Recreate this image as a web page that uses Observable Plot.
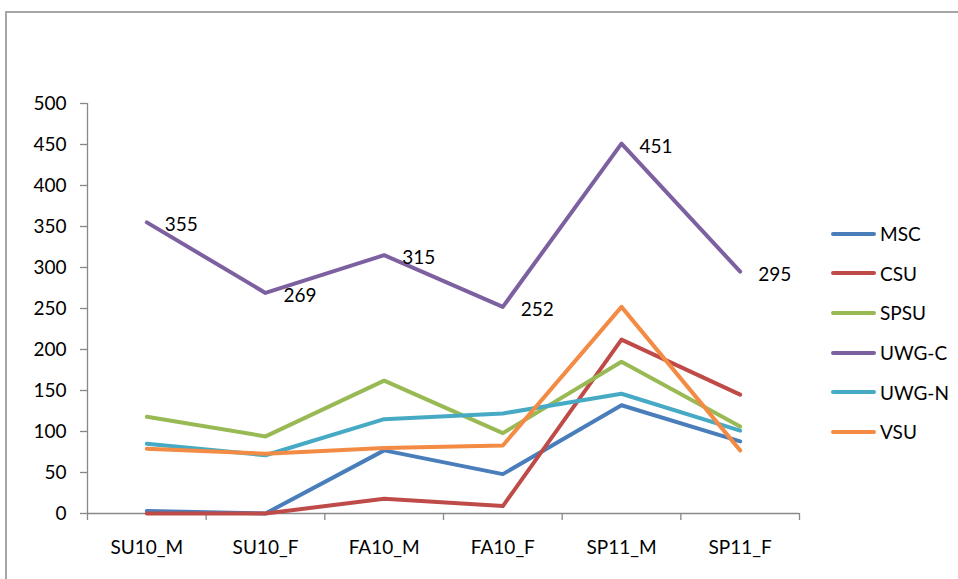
<!DOCTYPE html>
<html>
<head>
<meta charset="utf-8">
<script src="https://cdn.jsdelivr.net/npm/d3@7"></script>
<script src="https://cdn.jsdelivr.net/npm/@observablehq/plot@0.6"></script>
<style>
  html, body { margin: 0; padding: 0; background: #fff; }
  #wrap { position: relative; width: 958px; height: 579px; overflow: hidden; font-family: Lato, "Liberation Sans", sans-serif; }
  #frame { position: absolute; left: 5px; top: 11px; width: 1000px; height: 600px; border-top: 2px solid #a6a6a6; border-left: 2px solid #a6a6a6; box-sizing: border-box; }
  #chart { position: absolute; left: 0; top: 0; }
  #legend { position: absolute; left: 831px; top: 214px; }
  .item { display: flex; align-items: center; height: 39.6px; font-size: 19px; color: #000; }
  .swatch { width: 45px; height: 4px; border-radius: 2px; margin-right: 4px; }
</style>
</head>
<body>
<div id="wrap">
  <div id="frame"></div>
  <div id="chart"></div>
  <div id="legend"></div>
</div>
<script>
const categories = ["SU10_M", "SU10_F", "FA10_M", "FA10_F", "SP11_M", "SP11_F"];
const seriesNames = ["MSC", "CSU", "SPSU", "UWG-C", "UWG-N", "VSU"];
const colors = ["#4A7EBB", "#BE4B48", "#98B954", "#7D60A0", "#46AAC5", "#F38B45"];
const MSC = [3, 0, 77, 48, 132, 88];
const CSU = [0, 0, 18, 9, 212, 145];
const SPSU = [118, 94, 162, 98, 185, 106];
const UWG_C = [355, 269, 315, 252, 451, 295];
const UWG_N = [85, 71, 115, 122, 146, 101];
const VSU = [79, 73, 80, 83, 252, 77];
const yTicks = [0, 50, 100, 150, 200, 250, 300, 350, 400, 450, 500];

const seriesValues = [MSC, CSU, SPSU, UWG_C, UWG_N, VSU];
const rows = [];
seriesNames.forEach((s, si) => {
  seriesValues[si].forEach((v, i) => rows.push({series: s, i, cat: categories[i], value: v}));
});
const labelRows = rows.filter(d => d.series === "UWG-C");
const idx = categories.map((c, i) => i);
const bounds = d3.range(-0.5, categories.length, 1);

const font = "Lato, 'Liberation Sans', sans-serif";
const chart = Plot.plot({
  width: 958,
  height: 579,
  marginLeft: 87,
  marginRight: 159,
  marginTop: 103,
  marginBottom: 66,
  style: {fontFamily: font, fontSize: "19px", background: "transparent", color: "#000"},
  x: {type: "linear", domain: [-0.5, categories.length - 0.5]},
  y: {domain: [0, 500]},
  color: {domain: seriesNames, range: colors},
  marks: [
    Plot.ruleY([0], {stroke: "#888", strokeWidth: 1.3}),
    Plot.ruleX([-0.5], {y1: 0, y2: 500, stroke: "#888", strokeWidth: 1.3}),
    Plot.axisY({ticks: yTicks, tickSize: 7, tickPadding: 14, stroke: "#888", strokeOpacity: 1, strokeWidth: 1.3, fontSize: 19, fill: "#000", label: null}),
    Plot.axisX({ticks: bounds, tickSize: 7, tickFormat: () => "", stroke: "#888", strokeOpacity: 1, strokeWidth: 1.3, label: null}),
    Plot.axisX({ticks: idx, tickSize: 0, tickPadding: 27, tickFormat: i => categories[i], fontSize: 19, fill: "#000", label: null}),
    Plot.line(rows, {x: "i", y: "value", z: "series", stroke: "series", strokeWidth: 4, strokeLinecap: "round", strokeLinejoin: "round"}),
    Plot.text(labelRows, {x: "i", y: "value", text: d => String(d.value), textAnchor: "start", dx: 18, dy: 3, fontSize: 19, fill: "#000"})
  ]
});
document.getElementById("chart").appendChild(chart);

const legend = document.getElementById("legend");
seriesNames.forEach((s, i) => {
  const item = document.createElement("div");
  item.className = "item";
  const sw = document.createElement("div");
  sw.className = "swatch";
  sw.style.background = colors[i];
  const t = document.createElement("span");
  t.textContent = s;
  item.appendChild(sw);
  item.appendChild(t);
  legend.appendChild(item);
});
</script>
</body>
</html>
